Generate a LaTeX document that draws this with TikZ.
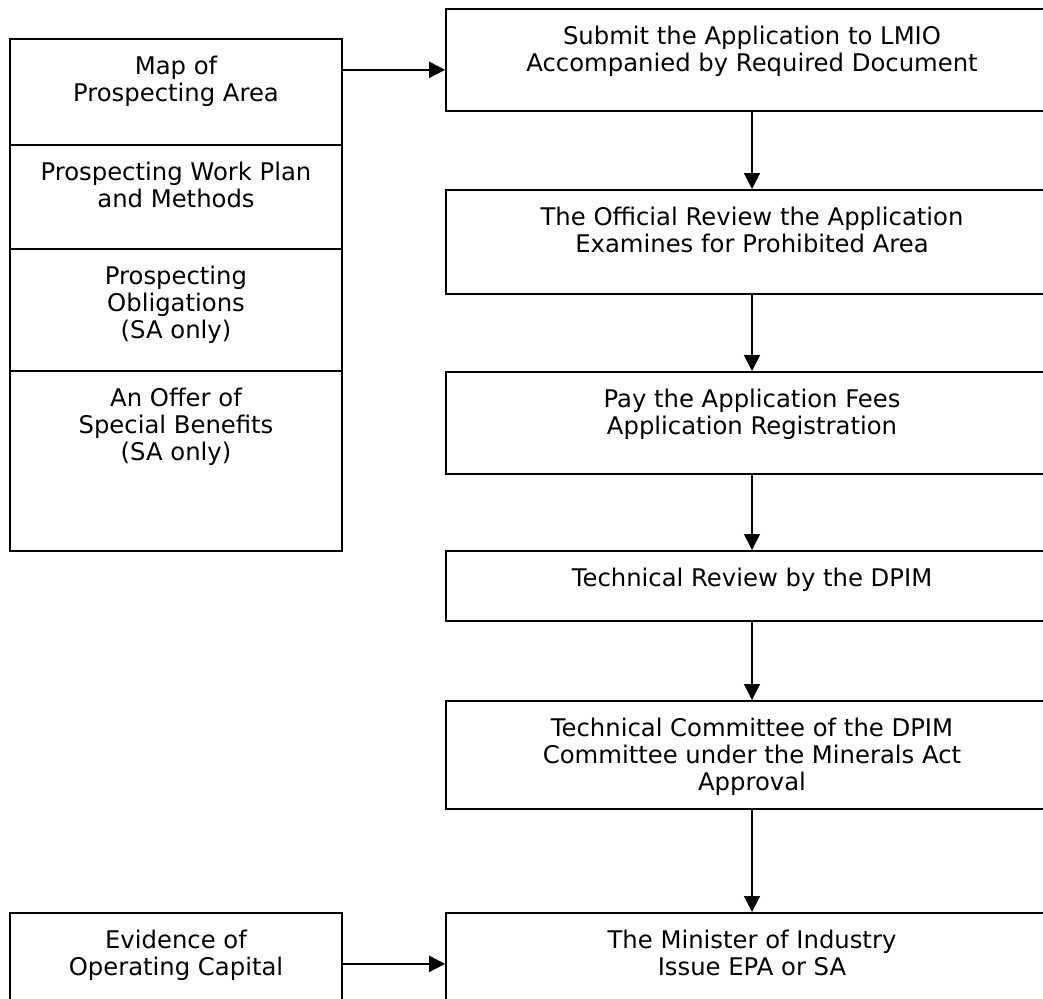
\documentclass[tikz,border=0pt]{standalone}
\usepackage{fontspec}
\setmainfont{DejaVu Sans}
\usetikzlibrary{arrows.meta}

\tikzset{
    box/.style={draw, line width=1.7pt, anchor=north, inner sep=0pt},
    leftbox/.style={box, minimum width=332pt},
    rightbox/.style={box, minimum width=612pt},
    boxtext/.style={align=center, anchor=north, inner sep=0pt,
        font=\fontsize{24.3}{27}\selectfont},
    flow/.style={line width=1.7pt, -{Triangle[length=16pt, width=16pt]}}
}

\begin{document}
\begin{tikzpicture}[x=1pt, y=-1pt]
            \clip (0,0) rectangle (1043,998);
            \fill[white] (0,0) rectangle (1043,998);

            % documents to attach
            \node[leftbox, minimum height=106pt] (map) at (176,38) {};
            \node[leftbox, minimum height=104pt] (plan) at (176,144) {};
            \node[leftbox, minimum height=122pt] (oblig) at (176,248) {};
            \node[leftbox, minimum height=180pt] (offer) at (176,370) {};
            \node[leftbox, minimum height=102pt] (capital) at (176,912) {};

            % procedure
            \node[rightbox, minimum height=102pt] (submit) at (752,8) {};
            \node[rightbox, minimum height=104pt] (review) at (752,189) {};
            \node[rightbox, minimum height=102pt] (pay) at (752,371) {};
            \node[rightbox, minimum height=70pt] (tech) at (752,550) {};
            \node[rightbox, minimum height=108pt] (committee) at (752,700) {};
            \node[rightbox, minimum height=102pt] (minister) at (752,912) {};

            \foreach \b/\t in {
                map/{Map of\\Prospecting Area},
                plan/{Prospecting Work Plan\\and Methods},
                oblig/{Prospecting\\Obligations\\(SA only)},
                offer/{An Offer of\\Special Benefits\\(SA only)},
                capital/{Evidence of\\Operating Capital},
                submit/{Submit the Application to LMIO\\Accompanied by Required Document},
                review/{The Official Review the Application\\Examines for Prohibited Area},
                pay/{Pay the Application Fees\\Application Registration},
                tech/{Technical Review by the DPIM},
                committee/{Technical Committee of the DPIM\\Committee under the Minerals Act\\Approval},
                minister/{The Minister of Industry\\Issue EPA or SA}}{
                \node[boxtext] (\b-text) at ([yshift=-17.5pt]\b.north) {\t};
            }

            \foreach \a/\b in {submit/review, review/pay, pay/tech, tech/committee, committee/minister}{
                \draw[flow] (\a) -- (\b);
            }

            \coordinate (mapout) at ([yshift=22pt]map.east);
            \draw[flow] (mapout) -- (mapout -| submit.west);
            \draw[flow] (capital) -- (minister);
        \end{tikzpicture}
\end{document}
